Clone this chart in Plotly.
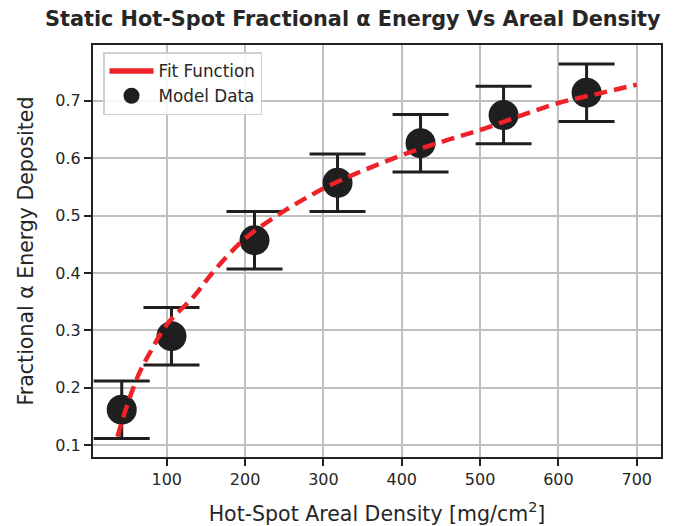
import plotly.graph_objects as go

# Model data
density = [42.5, 106, 212, 318, 424, 530, 636]
fraction = [0.162, 0.290, 0.457, 0.557, 0.626, 0.675, 0.714]
fraction_err = [0.05, 0.05, 0.05, 0.05, 0.05, 0.05, 0.05]

# Fit function
fit_x = [37, 50, 65, 80, 100, 135, 160, 200, 250, 300, 350, 400, 450, 500, 550, 600, 650, 700]
fit_y = [0.115, 0.172, 0.226, 0.265, 0.310, 0.360, 0.403, 0.460, 0.508, 0.547, 0.578, 0.605,
         0.628, 0.649, 0.673, 0.696, 0.712, 0.728]

x_ticks = [100, 200, 300, 400, 500, 600, 700]
y_ticks = [0.1, 0.2, 0.3, 0.4, 0.5, 0.6, 0.7]

FONT = "DejaVu Sans"
TXT = "#262626"
RED = "#ee2229"

L, R, T, B = 93, 19, 45, 69
W, H = 680, 526

fig = go.Figure()
fig.add_trace(go.Scatter(
    x=density, y=fraction, mode="markers", name="Model Data",
    marker=dict(size=30, color="#1f1f1f"),
    error_y=dict(type="data", array=fraction_err, visible=True,
                 color="#1f1f1f", thickness=3, width=28),
    legendrank=2,
))
fig.add_trace(go.Scatter(
    x=fit_x, y=fit_y, mode="lines", name="Fit Function",
    line=dict(color=RED, width=4.5, dash="13px,7px", shape="spline"),
    showlegend=False,
))
# legend entry (solid line, as in the reference legend)
fig.add_trace(go.Scatter(
    x=[None], y=[None], mode="lines", name="Fit Function",
    line=dict(color=RED, width=5.5), legendrank=1,
))

fig.update_layout(
    width=W, height=H,
    margin=dict(l=L, r=R, t=T, b=B, autoexpand=False),
    paper_bgcolor="white", plot_bgcolor="white",
    font=dict(family=FONT, color=TXT, size=16),
    showlegend=True,
    legend=dict(x=(103 - L) / (W - L - R), y=1 - (52 - T) / (H - T - B),
                xanchor="left", yanchor="top",
                bgcolor="rgba(255,255,255,0.85)", bordercolor="#d0d0d0", borderwidth=1.5,
                font=dict(size=16.8, family=FONT, color=TXT),
                tracegroupgap=0, itemwidth=44),
    annotations=[
        dict(text="<b>Static Hot-Spot Fractional α Energy Vs Areal Density</b>",
             x=(353 - L) / (W - L - R), xref="paper", y=1 + (T - 19) / (H - T - B), yref="paper",
             xanchor="center", yanchor="middle", showarrow=False,
             font=dict(size=20.8, family=FONT, color=TXT)),
    ],
)

fig.update_xaxes(
    range=[5.8, 731], tickvals=x_ticks, ticktext=[str(v) for v in x_ticks],
    showgrid=True, gridcolor="#c0c0c0", gridwidth=2,
    showline=True, linecolor="#222222", linewidth=2, mirror=True,
    ticks="outside", ticklen=7, tickwidth=2, tickcolor="#222222",
    tickfont=dict(size=16, family=FONT, color=TXT), zeroline=False, automargin=False,
    title=dict(text="Hot-Spot Areal Density [mg/cm<sup>2</sup>]", standoff=18,
               font=dict(size=20.5, family=FONT, color=TXT)),
)
fig.update_yaxes(
    range=[0.0796, 0.797], tickvals=y_ticks, ticktext=[f"{v:.1f}" for v in y_ticks],
    showgrid=True, gridcolor="#c0c0c0", gridwidth=2,
    showline=True, linecolor="#222222", linewidth=2, mirror=True,
    ticks="outside", ticklen=7, tickwidth=2, tickcolor="#222222",
    tickfont=dict(size=16, family=FONT, color=TXT), zeroline=False, automargin=False,
    title=dict(text="Fractional α Energy Deposited", standoff=16,
               font=dict(size=20.5, family=FONT, color=TXT)),
)

fig.write_html("out.html", config={"displayModeBar": False},
               post_script="document.body.style.margin='0';")
